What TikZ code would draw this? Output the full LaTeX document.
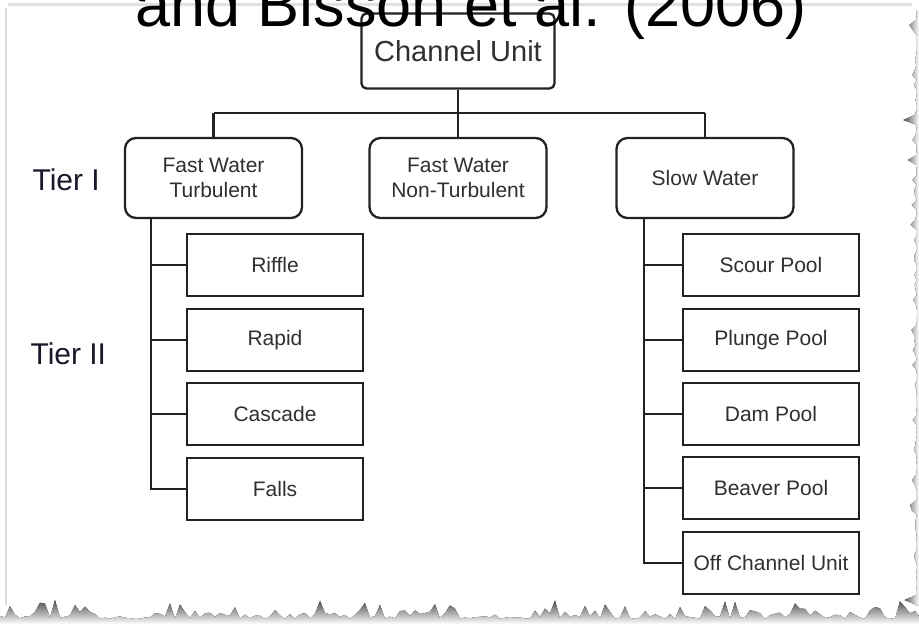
\documentclass[tikz,border=0pt]{standalone}
\usepackage{fontspec}
\setmainfont{Liberation Sans}
\definecolor{ink}{HTML}{222222}
\definecolor{txt}{HTML}{303030}
\definecolor{tier}{HTML}{18182A}
\begin{document}
\begin{tikzpicture}[x=1pt,y=-1pt,
  conn/.style={draw=ink, line width=2.3pt},
  tierbox/.style={draw=ink, line width=2.3pt, rounded corners=11pt, fill=white,
    minimum width=177pt, minimum height=80pt, inner sep=0pt, align=center,
    text=txt, font=\fontsize{21}{25}\selectfont},
  subbox/.style={draw=ink, line width=2.3pt, fill=white,
    minimum width=176pt, minimum height=62pt, inner sep=0pt, align=center,
    text=txt, font=\fontsize{21}{25}\selectfont},
  toplabel/.style={anchor=west, text=tier, font=\fontsize{30}{30}\selectfont}]
\useasboundingbox (0,0) rectangle (919,624);
\fill[white] (0,0) rectangle (919,624);
% paper edges
\draw[black!12, line width=3pt] (8,4) -- (912,4);
\draw[black!14, line width=2pt] (6,8) -- (6,605);

% nodes
\node[tierbox, rounded corners=5pt, minimum width=193pt, minimum height=75pt,
  font=\fontsize{29}{29}\selectfont] (cu) at (458,51) {Channel Unit};
\node[tierbox] (fwt)  at (213.5,178) {Fast Water\\Turbulent};
\node[tierbox] (fwnt) at (458,178)   {Fast Water\\Non-Turbulent};
\node[tierbox] (sw)   at (705,178)   {Slow Water};

\node[subbox] (riffle)  at (275,265) {Riffle};
\node[subbox] (rapid)   at (275,340) {Rapid};
\node[subbox] (cascade) at (275,414) {Cascade};
\node[subbox] (falls)   at (275,489) {Falls};

\node[subbox] (scour)  at (771,265) {Scour Pool};
\node[subbox] (plunge) at (771,340) {Plunge Pool};
\node[subbox] (dam)    at (771,414) {Dam Pool};
\node[subbox] (beaver) at (771,488) {Beaver Pool};
\node[subbox] (off)    at (771,563) {Off Channel Unit};

\node[toplabel] (t1) at (29,180) {Tier I};
\node[toplabel] (t2) at (27,354) {Tier II};

% connectors
\coordinate (bus) at (0,113);
\coordinate (tl) at (151,0);
\coordinate (tr) at (644,0);
\draw[conn] (cu.south) -- (cu.south |- bus);
\draw[conn] (fwt.north |- bus) -- (sw.north |- bus);
\draw[conn] (fwt.north |- bus) -- (fwt.north);
\draw[conn] (fwnt.north |- bus) -- (fwnt.north);
\draw[conn] (sw.north |- bus) -- (sw.north);

\draw[conn] (tl |- fwt.south) |- (falls.west);
\foreach \n in {riffle,rapid,cascade}
  \draw[conn] (tl |- \n.west) -- (\n.west);
\draw[conn] (tr |- sw.south) |- (off.west);
\foreach \n in {scour,plunge,dam,beaver}
  \draw[conn] (tr |- \n.west) -- (\n.west);

% title (cut at top, as in the reference)
\node[anchor=base west, inner sep=0pt, text=black,
  font=\fontsize{63}{63}\selectfont] (title) at (135,26) {and Bisson et al. (2006)};

% torn edges
\pgfmathsetseed{7}
\fill[top color=black!70, bottom color=white]
  (0,624) -- (0,616)
  \foreach \x in {5,10,...,915} { -- (\x,{619-21*rnd*rnd}) }
  -- (919,616) -- (919,624) -- cycle;
\pgfmathsetseed{11}
\fill[left color=black!70, right color=white]
  (919,10) -- (916,10)
  \foreach \y in {15,20,...,600} { -- ({917-15*rnd*rnd*rnd},\y) }
  -- (919,606) -- cycle;
\end{tikzpicture}
\end{document}
